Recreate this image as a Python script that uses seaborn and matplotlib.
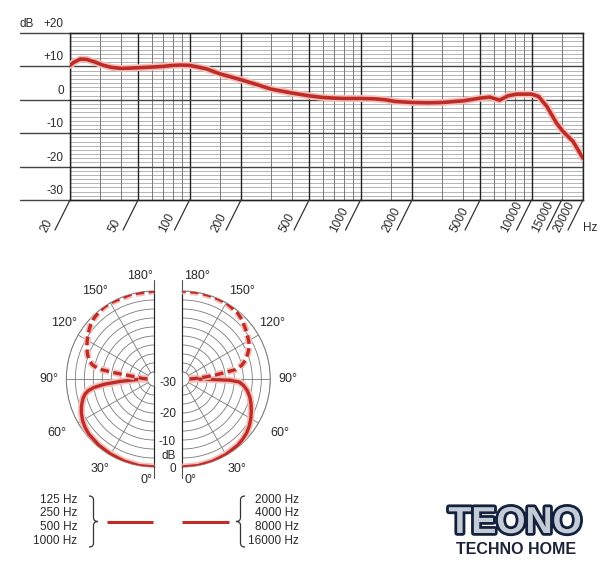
import numpy as np
import matplotlib
matplotlib.use("Agg")
import matplotlib.pyplot as plt
import matplotlib.patheffects as pe
from matplotlib.path import Path
from matplotlib.patches import PathPatch
from matplotlib.lines import Line2D
import seaborn as sns

sns.set_style("white")
plt.rcParams['font.family'] = ['Liberation Sans', 'DejaVu Sans']

# frequency response (Hz, dB)
freq_hz = [20, 21, 23, 25, 28, 31, 35, 40, 50, 60, 70, 80, 90, 100, 110, 125, 150,
           200, 250, 300, 400, 500, 600, 700, 800, 1000, 1200, 1400, 1600, 2000,
           2500, 3000, 4000, 5000, 5700, 6500, 7300, 8200, 10000, 11000, 12300,
           14000, 15300, 17500, 20000]
level_db = [10.3, 11.2, 12.2, 12.1, 11.3, 10.4, 9.7, 9.4, 9.6, 9.8, 10.0, 10.3, 10.4,
            10.3, 9.9, 9.3, 7.8, 6.0, 4.5, 3.2, 2.0, 1.2, 0.7, 0.5, 0.4, 0.4, 0.3,
            0.0, -0.5, -0.8, -0.9, -0.8, -0.3, 0.5, 0.8, -0.1, 1.2, 1.7, 1.7, 1.0,
            -2.0, -7.0, -9.5, -12.5, -17.5]

freq_labels = [20, 50, 100, 200, 500, 1000, 2000, 5000, 10000, 15000, 20000]
freq_major = [20, 50, 100, 200, 500, 1000, 2000, 5000, 10000, 20000]
freq_grid = [30, 40, 60, 70, 80, 90, 150, 300, 400, 600, 700, 800, 900, 1500,
             3000, 4000, 6000, 7000, 8000, 9000, 15000]
db_major = [20, 10, 0, -10, -20, -30]
db_major_labels = ['+20', '+10', '0', '-10', '-20', '-30']

# polar patterns (angle in degrees, level in dB)
low_front_deg = [0, 10, 20, 30, 40, 50, 55, 60, 65, 70, 75, 78, 80, 82, 84, 86, 88, 90]
low_front_db = [0, 0, -0.2, -0.4, -0.6, -0.9, -1.3, -1.9, -2.8, -3.9, -5.3, -6.5,
                -7.8, -10, -14, -20, -26, -30]
low_back_deg = [90, 93, 96, 98, 99, 100, 101, 103, 106, 110, 115, 120, 125, 130,
                135, 140, 145, 150, 165, 180]
low_back_db = [-30, -28, -26, -22, -17, -13, -11, -9, -7.5, -6.3, -5, -3.9, -2.8,
               -1.7, -0.9, -0.4, -0.1, 0, 0, 0]
high_front_deg = [0, 10, 20, 30, 40, 45, 50, 55, 60, 65, 70, 75, 80, 84, 87, 88.5, 89.5, 90]
high_front_db = [0, 0, -0.1, -0.3, -0.6, -1.0, -1.5, -2.3, -3.3, -4.4, -5.5, -6.7,
                 -8.2, -9.8, -11.5, -15, -24, -30]
high_back_deg = [90, 92, 95, 97, 100, 103, 107, 112, 116, 120, 128, 135, 140, 150,
                 160, 170, 180]
high_back_db = [-30, -28, -24, -20, -12.5, -10, -8, -6.3, -5, -4.2, -2.8, -1.4, -0.7,
                0, 0, 0, 0]

angle_labels = ['0°', '30°', '60°', '90°', '120°', '150°', '180°']
ring_labels = ['-30', '-20', '-10', 'dB', '0']
low_bands = ['125 Hz', '250 Hz', '500 Hz', '1000 Hz']
high_bands = ['2000 Hz', '4000 Hz', '8000 Hz', '16000 Hz']

RED = '#bf2c27'
TXT = '#2a2a2a'
halo = [pe.Stroke(linewidth=5, foreground='#f3c0ba'), pe.Normal()]
W, H = 616, 568

fig = plt.figure(figsize=(W / 100, H / 100), dpi=100)


def fx(px):
    return px / W


def fy(py):
    return 1 - py / H


# ---- frequency response ----
ax = fig.add_axes([fx(70), fy(200), fx(583) - fx(70), fy(33) - fy(200)])
ax.set_xscale('log')
ax.set_xlim(20, 20000)
ax.set_ylim(-30, 20)
for k in range(1, 40):
    if k % 8:
        ax.axhline(-30 + 1.25 * k, color='#a8a8a8', lw=0.6, zorder=1)
for f in freq_grid:
    ax.axvline(f, color='#7a7a7a', lw=0.7, zorder=1)
for f in freq_major:
    ax.axvline(f, color='#222222', lw=1.0, zorder=2)
for d in db_major:
    ax.plot([-0.0975, 1], [d, d], transform=ax.get_yaxis_transform(),
            clip_on=False, color='#444444', lw=1.0, zorder=2)
for d, lab in zip(db_major, db_major_labels):
    ax.annotate(lab, xy=(-0.012, d), xycoords=ax.get_yaxis_transform(),
                xytext=(0, 3), textcoords='offset pixels', ha='right', va='bottom',
                fontsize=8.5, color=TXT)
ax.annotate('dB', xy=(-0.0975, 20), xycoords=ax.get_yaxis_transform(),
            xytext=(0, 3), textcoords='offset pixels', ha='left', va='bottom',
            fontsize=8.5, color=TXT)
for f in freq_labels:
    ax.annotate('', xy=(f, 0), xycoords=ax.get_xaxis_transform(),
                xytext=(-15, -30), textcoords='offset pixels',
                arrowprops=dict(arrowstyle='-', color='#333333', lw=0.9,
                                shrinkA=0, shrinkB=0))
    ax.annotate(str(f), xy=(f, 0), xycoords=ax.get_xaxis_transform(),
                xytext=(-24, -33), textcoords='offset pixels', rotation=63,
                rotation_mode='anchor', ha='left', va='baseline',
                fontsize=8.5, color=TXT)
sns.lineplot(x=freq_hz, y=level_db, ax=ax, color=RED, lw=2.6,
             path_effects=halo, zorder=5)
ax.tick_params(which='both', length=0, labelbottom=False, labelleft=False)
ax.set_xlabel('')
ax.set_ylabel('')
for s in ax.spines.values():
    s.set_color('#222222')
    s.set_linewidth(1.0)
fig.text(fx(590), fy(228), 'Hz', ha='center', va='center', fontsize=8.5, color=TXT)

# ---- polar halves ----
R0 = -32.6
label_r = [5, 6.5, 8.7, 6.5, 6.8, 6.8, 6]
label_t = [4.5, 31, 61, 90, 122, 146, 172]


def half_polar(center_x, direction, front_deg, front_db, back_deg, back_db):
    size = 176
    left = center_x - (0.75 if direction < 0 else 0.25) * size
    pax = fig.add_axes([fx(left), fy(379 + size / 2), fx(size), size / H],
                       projection='polar')
    pax.set_theta_zero_location('S')
    pax.set_theta_direction(direction)
    pax.set_thetamin(0)
    pax.set_thetamax(180)
    pax.set_rlim(-30, 0)
    pax.set_rorigin(R0)
    pax.set_rticks(np.arange(-30, 0.1, 10 / 3))
    pax.set_yticklabels([])
    pax.set_thetagrids([30, 60, 90, 120, 150], labels=[''] * 5)
    pax.tick_params(length=0)
    pax.grid(True, color='#7a7a7a', lw=0.6)
    pax.spines['start'].set_visible(False)
    pax.spines['end'].set_visible(False)
    pax.spines['polar'].set(color='#7a7a7a', lw=0.7)
    pax.spines['inner'].set(color='#7a7a7a', lw=0.6)
    for t in (0, np.pi):
        pax.plot([t, t], [R0, 4], color='#555555', lw=0.8, clip_on=False)
    sns.lineplot(x=np.deg2rad(front_deg), y=front_db, ax=pax, color=RED, lw=2.4,
                 sort=False, path_effects=halo, zorder=5)
    sns.lineplot(x=np.deg2rad(back_deg), y=back_db, ax=pax, color=RED, lw=2.4,
                 sort=False, path_effects=halo, zorder=5)
    pax.lines[-1].set_linestyle((0, (2.6, 1.3)))
    pax.set_xlabel('')
    pax.set_ylabel('')
    for lab, t, r in zip(angle_labels, label_t, label_r):
        pax.text(np.deg2rad(t), r, lab, ha='center', va='center', fontsize=9,
                 color=TXT)
    return pax


half_polar(154.3, -1, low_front_deg, low_front_db, low_back_deg, low_back_db)
half_polar(182.3, 1, high_front_deg, high_front_db, high_back_deg, high_back_db)

for lab, py in zip(ring_labels, [383, 414, 442, 456, 469]):
    fig.text(fx(176), fy(py), lab, ha='right', va='center', fontsize=8.5, color=TXT)

# ---- legend ----
for i, (lo, hi) in enumerate(zip(low_bands, high_bands)):
    py = 500 + 13.5 * i
    fig.text(fx(77), fy(py), lo, ha='right', va='center', fontsize=8.5, color=TXT)
    fig.text(fx(299), fy(py), hi, ha='right', va='center', fontsize=8.5, color=TXT)
for x0, x1 in [(106.7, 153), (181.7, 229)]:
    fig.add_artist(Line2D([fx(x0), fx(x1)], [fy(521.7), fy(521.7)], color=RED,
                          lw=2.2, solid_capstyle='butt'))


def brace(x_out, x_in, x_tip, top, bot):
    mid = (top + bot) / 2
    pts = [(x_out, top), (x_in, top), (x_in, top + 4), (x_in, mid - 4), (x_in, mid),
           (x_tip, mid), (x_in, mid), (x_in, mid + 4), (x_in, bot - 4), (x_in, bot),
           (x_out, bot)]
    codes = [Path.MOVETO, Path.CURVE3, Path.CURVE3, Path.LINETO, Path.CURVE3,
             Path.CURVE3, Path.CURVE3, Path.CURVE3, Path.LINETO, Path.CURVE3,
             Path.CURVE3]
    path = Path([(fx(a), fy(b)) for a, b in pts], codes)
    fig.add_artist(PathPatch(path, fill=False, edgecolor='#333333', lw=0.9,
                             transform=fig.transFigure))


brace(89, 93.5, 98, 496, 547)
brace(245, 240.5, 236, 496, 547)

# ---- logo ----
fig.text(fx(515), fy(523), 'TEONO', ha='center', va='center', fontsize=27,
         fontweight='bold', color='#c3ccd6',
         path_effects=[pe.Stroke(linewidth=4, foreground='#14213d'), pe.Normal()])
fig.text(fx(516), fy(549), 'TECHNO HOME', ha='center', va='center', fontsize=11.5,
         fontweight='bold', color='#1b2336')

fig.savefig('out.png', dpi=100)
